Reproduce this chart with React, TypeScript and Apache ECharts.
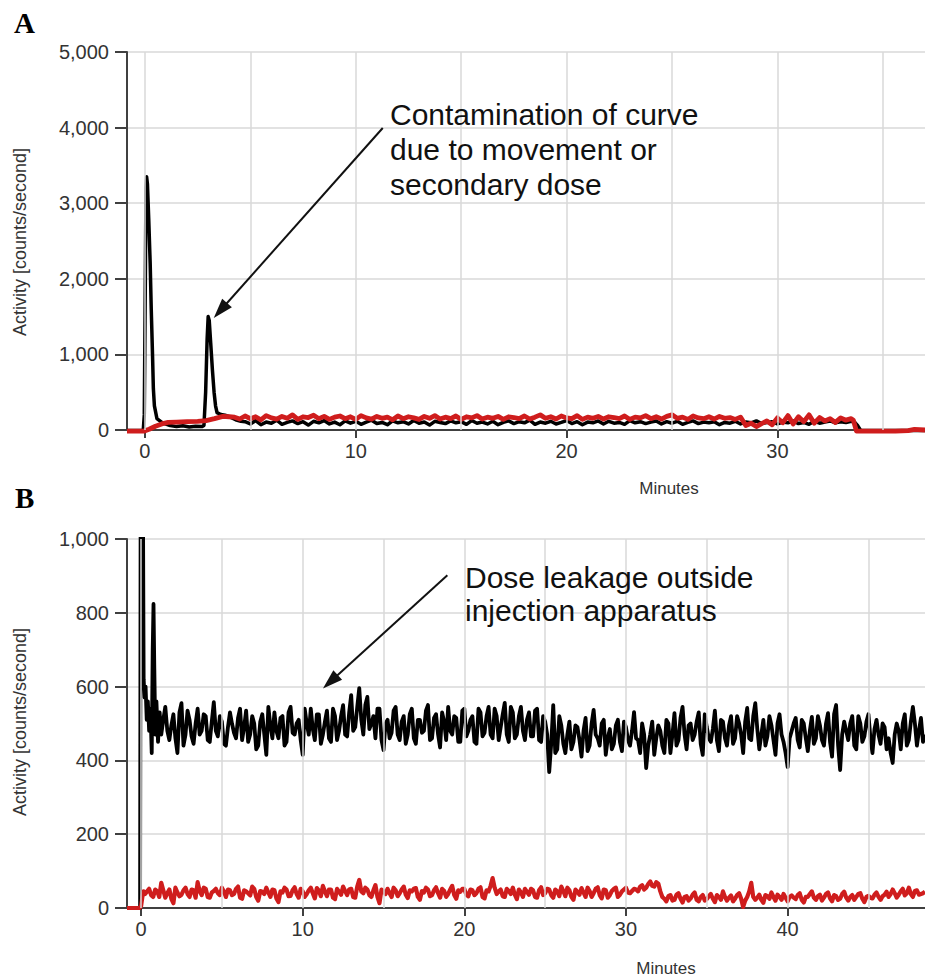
import React, { useEffect, useRef } from 'react';
import * as echarts from 'echarts';

// ---------------- Panel A ----------------
const aXMin = -0.85;
const aXMax = 37;
const aXLabels = [0, 10, 20, 30];
const aXGrid = [0, 5, 10, 15, 20, 25, 30, 35];
const aYMax = 5000;
const aYStep = 1000;
const aYTicks = ['0', '1,000', '2,000', '3,000', '4,000', '5,000'];

const aBlackHead: [number, number][] = [
  [-0.85, -8], [-0.08, -8], [-0.03, 200], [0.02, 2000], [0.05, 3200], [0.08, 3350], [0.12, 3250],
  [0.18, 2800], [0.25, 2200], [0.3, 1600], [0.36, 1000], [0.4, 550], [0.45, 320], [0.57, 150],
  [0.85, 90], [1.2, 60], [1.5, 45], [1.8, 55], [2.1, 40], [2.4, 50], [2.7, 45], [2.8, 60],
  [2.88, 500], [2.95, 1200], [3.0, 1500], [3.05, 1450], [3.12, 1150], [3.2, 800], [3.28, 500],
  [3.35, 320], [3.42, 230], [3.6, 205], [3.8, 195], [4.0, 175], [4.3, 135], [4.55, 115],
];
const aBlackBodyStart = 4.75;
const aBodyStep = 0.25;
const aBlackBody = [
  110, 80, 125, 70, 105, 90, 130, 75, 100, 120, 85, 110, 65, 115, 95, 125, 80, 105, 70, 120,
  90, 115, 75, 105, 130, 85, 100, 70, 120, 95, 110, 80, 125, 90, 105, 65, 115, 100, 85, 120,
  95, 110, 75, 125, 90, 105, 80, 115, 70, 100, 120, 85, 110, 95, 130, 75, 105, 90, 115, 80,
  100, 125, 85, 110, 70, 105, 95, 120, 80, 115, 90, 100, 75, 125, 95, 110, 85, 105, 120, 80,
  110, 90, 115, 75, 100, 120, 85, 105, 95, 110, 70, 100, 90, 115, 80, 105, 95, 120, 85, 100,
  110, 80, 105, 95, 120, 85, 100, 75, 115, 90, 105, 120, 95, 110, 100, 115,
];
const aBlackTail: [number, number][] = [[33.65, 105], [33.8, 60], [33.95, -5], [37, -5]];

const aRedHead: [number, number][] = [
  [-0.85, -15], [-0.05, -15], [0.2, 10], [0.5, 50], [0.8, 80], [1.1, 100], [1.5, 105], [2.0, 110],
  [2.5, 115], [2.9, 125], [3.3, 150], [3.7, 180], [4.0, 175],
];
const aRedBodyStart = 4.25;
const aRedBody = [
  170, 145, 185, 150, 175, 135, 190, 160, 145, 180, 155, 200, 140, 175, 165, 195, 150, 180, 140, 170,
  185, 150, 175, 140, 190, 160, 145, 180, 155, 170, 135, 185, 150, 175, 160, 140, 180, 155, 190, 145,
  170, 150, 185, 140, 175, 160, 190, 145, 170, 155, 180, 140, 175, 165, 150, 185, 145, 170, 200, 155,
  175, 145, 185, 160, 150, 190, 140, 170, 155, 180, 145, 175, 165, 150, 185, 140, 170, 160, 190, 150,
  175, 145, 180, 200, 155, 170, 140, 185, 160, 150, 175, 145, 180, 155, 165, 140, 170,
];
const aRedLateStart = 28.5;
const aRedLate = [60, 90, 45, 85, 120, 70, 160, 95, 190, 80, 175, 110, 200, 90, 165, 120, 150, 100, 160, 130, 150];
const aRedTail: [number, number][] = [[33.6, 130], [33.75, -15], [35.6, -15], [36.2, -8], [36.5, 8], [37, 0]];

// arrow A (data coords): start, end
const aArrow: [number, number][] = [[11.28, 3995], [3.58, 1581]];

// ---------------- Panel B ----------------
const bXMin = -0.87;
const bXMax = 48.5;
const bXLabels = [0, 10, 20, 30, 40];
const bXGrid = [0, 5, 10, 15, 20, 25, 30, 35, 40, 45];
const bYMax = 1000;
const bYStep = 200;
const bYTicks = ['0', '200', '400', '600', '800', '1,000'];

const bBlackHead: [number, number][] = [
  [-0.87, 0], [-0.06, 0], [-0.02, 1300], [0.1, 1300], [0.16, 620], [0.22, 570], [0.28, 600],
  [0.35, 510], [0.42, 560], [0.5, 480], [0.58, 540], [0.66, 420], [0.72, 700], [0.77, 824],
  [0.82, 650], [0.88, 470], [0.95, 560], [1.05, 450], [1.15, 530],
];
const bBodyStep = 0.25;
// samples at 1.25, 1.5, ... 48.5
const bBlackBodyStart = 1.25;
const bBlackBody = [
  470, 545, 455, 525, 420, 555, 470, 510, 445, 540, 480, 520, 450, 558, 465, 505, 440, 530, 475, 515,
  455, 535, 470, 500, 440, 525, 415, 495, 530, 460, 520, 450, 545, 470, 510, 415, 500, 540, 455, 525,
  470, 535, 450, 520, 480, 550, 465, 577, 490, 596, 470, 572, 500, 460, 540, 428, 510, 475, 545, 455,
  520, 470, 540, 445, 510, 480, 550, 460, 525, 435, 505, 545, 470, 515, 450, 540, 480, 520, 445, 530,
  475, 545, 460, 520, 490, 556, 450, 530, 470, 545, 455, 530, 465, 540, 450, 505, 368, 550, 430, 495,
  420, 505, 450, 490, 410, 515, 440, 537, 460, 500, 415, 485, 445, 510, 425, 490, 440, 531, 455, 500,
  379, 470, 415, 495, 440, 510, 420, 528, 455, 545, 430, 500, 470, 530, 415, 490, 450, 535, 425, 505,
  440, 520, 460, 500, 420, 542, 455, 555, 430, 510, 465, 495, 415, 525, 450, 382, 480, 515, 435, 500,
  425, 518, 460, 495, 440, 528, 410, 550, 374, 505, 455, 520, 430, 500, 465, 525, 420, 510, 445, 490,
  460, 393, 500, 430, 525, 455, 545, 440, 515, 470,
];
// samples at 1.375, 1.625, ... 48.375
const bBlackMidStart = 1.375;
const bBlackMid = [
  510, 480, 495, 460, 530, 440, 535, 465, 500, 470, 525, 455, 505, 480, 520, 445, 490, 500, 460, 540,
  490, 450, 520, 430, 505, 470, 545, 460, 480, 515, 440, 530, 475, 500, 455, 540, 470, 485, 525, 445,
  505, 460, 540, 455, 520, 470, 530, 480, 545, 510, 550, 485, 520, 540, 455, 500, 460, 535, 470, 505,
  445, 525, 460, 510, 475, 535, 455, 515, 470, 530, 455, 480, 520, 450, 535, 465, 510, 450, 540, 465,
  520, 470, 540, 455, 525, 470, 545, 460, 520, 480, 510, 465, 535, 455, 520, 470, 445, 420, 520, 445,
  470, 430, 495, 455, 480, 425, 500, 470, 440, 510, 460, 430, 495, 450, 505, 455, 480, 460, 420, 470,
  440, 505, 460, 480, 420, 500, 470, 440, 515, 470, 495, 455, 505, 445, 525, 460, 485, 455, 510, 460,
  495, 445, 520, 470, 505, 460, 520, 485, 470, 440, 520, 455, 500, 470, 420, 460, 500, 455, 510, 460,
  480, 445, 520, 455, 500, 450, 525, 440, 470, 480, 500, 440, 520, 450, 505, 460, 485, 470, 500, 430,
  420, 470, 480, 500, 440, 505, 500, 480, 450,
];

const bRedHead: [number, number][] = [[-0.87, 0], [-0.1, 0], [0.0, 5], [0.08, 30], [0.15, 45]];
// samples at 0.25, 0.5, ... 48.5
const bRedBodyStart = 0.25;
const bRedBody = [
  38, 52, 30, 45, 68, 28, 50, 13, 42, 36, 55, 30, 48, 70, 35, 52, 28, 46, 40, 55,
  30, 48, 38, 58, 25, 45, 34, 52, 20, 44, 55, 30, 48, 16, 42, 50, 33, 56, 28, 45,
  38, 55, 26, 47, 60, 32, 50, 24, 44, 58, 35, 52, 28, 76, 40, 50, 30, 62, 13, 45,
  52, 30, 48, 40, 58, 27, 45, 54, 22, 42, 50, 35, 56, 28, 46, 38, 60, 25, 44, 52,
  32, 48, 40, 56, 26, 45, 81, 38, 50, 30, 46, 55, 24, 42, 52, 36, 48, 28, 56, 40,
  50, 28, 45, 58, 32, 48, 22, 44, 54, 30, 46, 40, 56, 26, 48, 35, 52, 30, 45, 55,
  40, 52, 45, 62, 55, 72, 58, 66, 30, 18, 35, 22, 40, 15, 32, 26, 42, 18, 35, 24,
  38, 16, 30, 45, 20, 34, 25, 40, 3, 30, 68, 22, 36, 14, 32, 42, 20, 30, 38, 18,
  34, 24, 40, 15, 30, 45, 22, 36, 28, 42, 18, 32, 25, 44, 20, 35, 30, 40, 16, 33,
  26, 42, 22, 36, 30, 50, 28, 45, 34, 55, 30, 48, 38, 44,
];
// samples at 0.375, 0.625, ... 48.375
const bRedMidStart = 0.375;
const bRedMid = [
  45, 35, 50, 30, 48, 40, 25, 55, 32, 48, 38, 50, 28, 46, 55, 30, 42, 52, 35, 45,
  50, 35, 52, 28, 48, 40, 58, 30, 46, 38, 42, 50, 26, 45, 55, 32, 48, 38, 52, 30,
  48, 40, 54, 32, 45, 50, 28, 52, 36, 46, 50, 30, 58, 45, 55, 35, 48, 30, 50, 38,
  40, 55, 32, 50, 36, 48, 52, 30, 46, 55, 32, 48, 40, 52, 30, 50, 35, 48, 52, 36,
  50, 35, 52, 30, 48, 60, 55, 45, 32, 52, 38, 36, 50, 30, 44, 52, 30, 48, 35, 52,
  35, 50, 32, 46, 55, 30, 50, 36, 42, 55, 30, 52, 35, 50, 28, 46, 55, 36, 50, 42,
  46, 50, 58, 50, 65, 60, 70, 45, 25, 32, 20, 36, 25, 30, 20, 36, 22, 30, 20, 32,
  25, 35, 22, 30, 28, 18, 35, 25, 20, 45, 30, 28, 22, 35, 25, 30, 36, 22, 28, 30,
  28, 35, 22, 30, 38, 28, 32, 20, 38, 26, 35, 22, 38, 28, 30, 22, 38, 25, 30, 28,
  36, 30, 32, 44, 38, 40, 36, 52, 40, 38, 46, 36, 40,
];

const bArrow: [number, number][] = [[18.95, 902], [11.71, 613]];

// ---------------- helpers ----------------
const seq = (start: number, step: number, vals: number[]): [number, number][] =>
  vals.map((v, i) => [Math.round((start + i * step) * 1000) / 1000, v]);
const merge = (...parts: [number, number][][]): [number, number][] =>
  parts.flat().sort((p, q) => p[0] - q[0]);

const FONT = '"Liberation Sans", Arial, sans-serif';
const AXIS_COLOR = '#404040';
const GRID_COLOR = '#d9d9d9';
const LABEL_COLOR = '#333333';
const RED = '#cf1d1d';

const aBlack = merge(aBlackHead, seq(aBlackBodyStart, aBodyStep, aBlackBody), aBlackTail);
const aRed = merge(aRedHead, seq(aRedBodyStart, aBodyStep, aRedBody), seq(aRedLateStart, aBodyStep, aRedLate), aRedTail);
const bBlack = merge(bBlackHead, seq(bBlackBodyStart, bBodyStep, bBlackBody), seq(bBlackMidStart, bBodyStep, bBlackMid));
const bRed = merge(bRedHead, seq(bRedBodyStart, bBodyStep, bRedBody), seq(bRedMidStart, bBodyStep, bRedMid));

function xAxisCfg(grid: number, min: number, max: number, labels: number[]) {
  return {
    gridIndex: grid,
    type: 'value',
    min,
    max,
    axisLine: { show: true, onZero: false, lineStyle: { color: AXIS_COLOR, width: 2 } },
    axisTick: { show: true, customValues: labels, length: 8, lineStyle: { color: AXIS_COLOR, width: 2 } },
    axisLabel: { customValues: labels, fontSize: 20, color: LABEL_COLOR, margin: 11, fontFamily: FONT },
    splitLine: { show: false },
  };
}

function yAxisCfg(grid: number, max: number, step: number, ticks: string[]) {
  return {
    gridIndex: grid,
    type: 'value',
    min: 0,
    max,
    interval: step,
    axisLine: { show: true, onZero: false, lineStyle: { color: AXIS_COLOR, width: 2 } },
    axisTick: { show: true, length: 12, lineStyle: { color: AXIS_COLOR, width: 2 } },
    axisLabel: {
      fontSize: 20,
      color: LABEL_COLOR,
      margin: 18,
      fontFamily: FONT,
      formatter: (v: number) => ticks[Math.round(v / step)] ?? '',
    },
    splitLine: { show: true, lineStyle: { color: GRID_COLOR, width: 1.5 } },
  };
}

function gridSeries(idx: number, xs: number[]) {
  return {
    type: 'line',
    xAxisIndex: idx,
    yAxisIndex: idx,
    data: [],
    z: 1,
    silent: true,
    markLine: {
      silent: true,
      symbol: ['none', 'none'],
      label: { show: false },
      lineStyle: { color: GRID_COLOR, width: 1.5, type: 'solid' },
      emphasis: { disabled: true },
      data: xs.map((v) => ({ xAxis: v })),
    },
  };
}

function arrowSeries(idx: number, pts: [number, number][]) {
  return {
    type: 'line',
    xAxisIndex: idx,
    yAxisIndex: idx,
    data: [],
    z: 6,
    silent: true,
    markLine: {
      silent: true,
      label: { show: false },
      lineStyle: { color: '#111', width: 2, type: 'solid' },
      emphasis: { disabled: true },
      data: [
        [
          { coord: pts[0], symbol: 'none' },
          { coord: pts[1], symbol: 'triangle', symbolSize: [13, 20] },
        ],
      ],
    },
  };
}

function lineSeries(idx: number, data: [number, number][], color: string, width: number, clip: boolean, z: number) {
  return {
    type: 'line',
    xAxisIndex: idx,
    yAxisIndex: idx,
    data,
    showSymbol: false,
    symbol: 'none',
    clip,
    z,
    lineStyle: { color, width, join: 'round' },
  };
}

export default function App() {
  const ref = useRef<HTMLDivElement>(null);

  useEffect(() => {
    if (!ref.current) return;
    const chart = echarts.init(ref.current, null, { renderer: 'svg' });
    const textStyle = (text: string, size: number, extra: any = {}) => ({
      text,
      font: `${size}px ${FONT}`,
      fill: LABEL_COLOR,
      ...extra,
    });
    chart.setOption({
      animation: false,
      backgroundColor: '#ffffff',
      grid: [
        { left: 127, top: 52, width: 798, height: 378, containLabel: false },
        { left: 127, top: 539, width: 798, height: 369, containLabel: false },
      ],
      xAxis: [xAxisCfg(0, aXMin, aXMax, aXLabels), xAxisCfg(1, bXMin, bXMax, bXLabels)],
      yAxis: [yAxisCfg(0, aYMax, aYStep, aYTicks), yAxisCfg(1, bYMax, bYStep, bYTicks)],
      series: [
        gridSeries(0, aXGrid),
        gridSeries(1, bXGrid),
        lineSeries(0, aBlack, '#000000', 3.5, false, 3),
        lineSeries(0, aRed, RED, 4.8, false, 4),
        lineSeries(1, bBlack, '#000000', 3.8, true, 3),
        lineSeries(1, bRed, RED, 4.2, false, 4),
        arrowSeries(0, aArrow),
        arrowSeries(1, bArrow),
      ],
      graphic: [
        { type: 'text', x: 14, y: 23, style: { text: 'A', font: 'bold 29px "Liberation Serif", "Times New Roman", serif', fill: '#000', verticalAlign: 'middle' } },
        { type: 'text', x: 15, y: 498, style: { text: 'B', font: 'bold 29px "Liberation Serif", "Times New Roman", serif', fill: '#000', verticalAlign: 'middle' } },
        { type: 'text', x: 20, y: 242, rotation: Math.PI / 2, style: textStyle('Activity [counts/second]', 18, { align: 'center', verticalAlign: 'middle' }) },
        { type: 'text', x: 20, y: 722, rotation: Math.PI / 2, style: textStyle('Activity [counts/second]', 18, { align: 'center', verticalAlign: 'middle' }) },
        { type: 'text', x: 669, y: 488, style: textStyle('Minutes', 17, { align: 'center', verticalAlign: 'middle' }) },
        { type: 'text', x: 666, y: 968, style: textStyle('Minutes', 17, { align: 'center', verticalAlign: 'middle' }) },
        {
          type: 'text', x: 390, y: 149, z: 10,
          style: { text: 'Contamination of curve\ndue to movement or\nsecondary dose', font: `30px ${FONT}`, fill: '#111', lineHeight: 35, verticalAlign: 'middle' },
        },
        {
          type: 'text', x: 465, y: 594, z: 10,
          style: { text: 'Dose leakage outside\ninjection apparatus', font: `30px ${FONT}`, fill: '#111', lineHeight: 33, verticalAlign: 'middle' },
        },
      ],
    });
    return () => chart.dispose();
  }, []);

  return <div ref={ref} style={{ position: 'fixed', left: 0, top: 0, width: 925, height: 978 }} />;
}
